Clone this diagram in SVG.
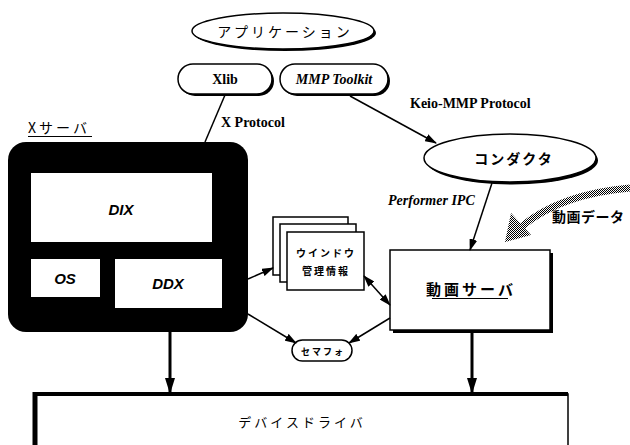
<svg xmlns="http://www.w3.org/2000/svg" width="630" height="445" viewBox="0 0 630 445">
<defs>
<style>
.ln{stroke:#000;stroke-width:1.5;fill:none}
.thick{stroke:#000;stroke-width:3;fill:none}
.wf{fill:#fff;stroke:#000;stroke-width:1.5}
.sh{fill:#000}
.jp{font-family:"Noto Sans CJK JP",sans-serif;fill:#000}
.lat{font-family:"Liberation Serif",serif;font-weight:bold;font-size:14px;fill:#000}
.lati{font-family:"Liberation Serif",serif;font-weight:bold;font-style:italic;font-size:14px;fill:#000}
.sans{font-family:"Liberation Sans",sans-serif;font-weight:bold;font-style:italic;font-size:15px;fill:#000}
.mid{text-anchor:middle}
</style>
<marker id="ah" viewBox="0 0 12 8" markerWidth="12" markerHeight="8" refX="11" refY="4" orient="auto-start-reverse" markerUnits="userSpaceOnUse"><path d="M0,0 L12,4 L0,8 z" fill="#000"/></marker>
<marker id="bh" viewBox="0 0 16 10" markerWidth="16" markerHeight="10" refX="15" refY="5" orient="auto" markerUnits="userSpaceOnUse"><path d="M0,0 L16,5 L0,10 z" fill="#000"/></marker>
<pattern id="dots" width="2" height="2" patternUnits="userSpaceOnUse"><rect width="1" height="1" fill="#000"/><rect x="1" y="1" width="1" height="1" fill="#000"/></pattern>
</defs>
<rect width="630" height="445" fill="#fff"/>

<g id="application">
<ellipse cx="285" cy="33" rx="91" ry="18" class="sh"/>
<ellipse cx="283" cy="31" rx="91" ry="18" class="wf"/>
<text x="285" y="37" class="jp mid" font-size="14" letter-spacing="3">アプリケーション</text>
</g>

<g id="xlib">
<rect x="180" y="66" width="94" height="30" rx="15" class="sh"/>
<rect x="178" y="64" width="94" height="30" rx="15" class="wf"/>
<text x="225" y="84" class="lat mid">Xlib</text>
</g>

<g id="mmp-toolkit">
<rect x="282" y="66" width="108" height="30" rx="15" class="sh"/>
<rect x="280" y="64" width="108" height="30" rx="15" class="wf"/>
<text x="334" y="84" class="lati mid">MMP Toolkit</text>
</g>

<g id="xserver">
<text x="28" y="133" class="jp" font-size="14" letter-spacing="3">Xサーバ</text>
<line x1="28" y1="136.5" x2="92" y2="136.5" stroke="#000" stroke-width="1.2"/>
<rect x="8" y="142" width="240" height="190" rx="18" fill="#000"/>
<rect x="31" y="173" width="181" height="69" fill="#fff"/>
<text x="121" y="215" class="sans mid">DIX</text>
<rect x="31" y="259" width="69" height="38" fill="#fff"/>
<text x="65" y="284" class="sans mid">OS</text>
<rect x="115" y="259" width="107" height="49" fill="#fff"/>
<text x="168" y="289" class="sans mid">DDX</text>
</g>

<g id="window-info">
<rect x="273" y="217" width="75" height="58" class="wf"/>
<rect x="280" y="224" width="76" height="58" class="wf"/>
<rect x="287" y="232" width="77" height="58" class="wf"/>
<text x="326" y="257" class="jp mid" font-size="10" font-weight="bold" letter-spacing="2">ウインドウ</text>
<text x="326" y="275" class="jp mid" font-size="10" font-weight="bold" letter-spacing="2">管理情報</text>
</g>

<g id="video-server">
<rect x="393" y="253" width="160" height="80" class="sh"/>
<rect x="390" y="250" width="160" height="80" class="wf"/>
<text x="471" y="295" class="jp mid" font-size="15" font-weight="bold" letter-spacing="3">動画サーバ</text>
<line x1="432" y1="298.5" x2="508" y2="298.5" stroke="#000" stroke-width="1.2"/>
</g>

<g id="conductor">
<ellipse cx="512" cy="160.5" rx="86" ry="24" class="sh"/>
<ellipse cx="510" cy="158" rx="86" ry="24" class="wf"/>
<text x="514" y="164" class="jp mid" font-size="14" font-weight="bold" letter-spacing="2">コンダクタ</text>
</g>

<g id="semaphore">
<rect x="292" y="340" width="60" height="21" rx="10.5" class="wf"/>
<text x="323" y="355" class="jp mid" font-size="9" font-weight="bold" letter-spacing="2">セマフォ</text>
</g>

<g id="device-driver">
<rect x="34" y="394" width="534" height="60" class="wf"/>
<line x1="33" y1="394" x2="568" y2="394" stroke="#000" stroke-width="4"/>
<line x1="35" y1="392" x2="35" y2="445" stroke="#000" stroke-width="5"/>
<text x="302" y="427" class="jp mid" font-size="13" letter-spacing="3">デバイスドライバ</text>
</g>

<g id="video-data">
<path d="M630 188 C 595 191, 552 201, 521 227" fill="none" stroke="url(#dots)" stroke-width="7"/>
<polygon points="511,213 531,235 505,242" fill="url(#dots)"/>
<text x="552" y="222" class="jp" font-size="14" font-weight="bold" letter-spacing="0.5">動画データ</text>
</g>

<g id="connectors">
<line x1="225" y1="95" x2="205" y2="142" class="ln"/>
<text x="221" y="127" class="lat">X Protocol</text>
<line x1="350" y1="96" x2="436" y2="143" class="ln" marker-end="url(#ah)"/>
<text x="410" y="108" class="lat">Keio-MMP Protocol</text>
<line x1="492" y1="183" x2="470" y2="250" class="ln" marker-end="url(#ah)"/>
<text x="388" y="205" class="lati">Performer IPC</text>
<line x1="248" y1="279" x2="273" y2="268" class="ln" marker-end="url(#ah)"/>
<line x1="364" y1="276" x2="390" y2="305" class="ln" marker-start="url(#ah)" marker-end="url(#ah)"/>
<line x1="248" y1="314" x2="296" y2="343" class="ln" marker-end="url(#ah)"/>
<line x1="390" y1="318" x2="349" y2="343" class="ln" marker-end="url(#ah)"/>
<line x1="170" y1="332" x2="170" y2="393" class="thick" marker-end="url(#bh)"/>
<line x1="472" y1="333" x2="472" y2="393" class="thick" marker-end="url(#bh)"/>
</g>
</svg>
